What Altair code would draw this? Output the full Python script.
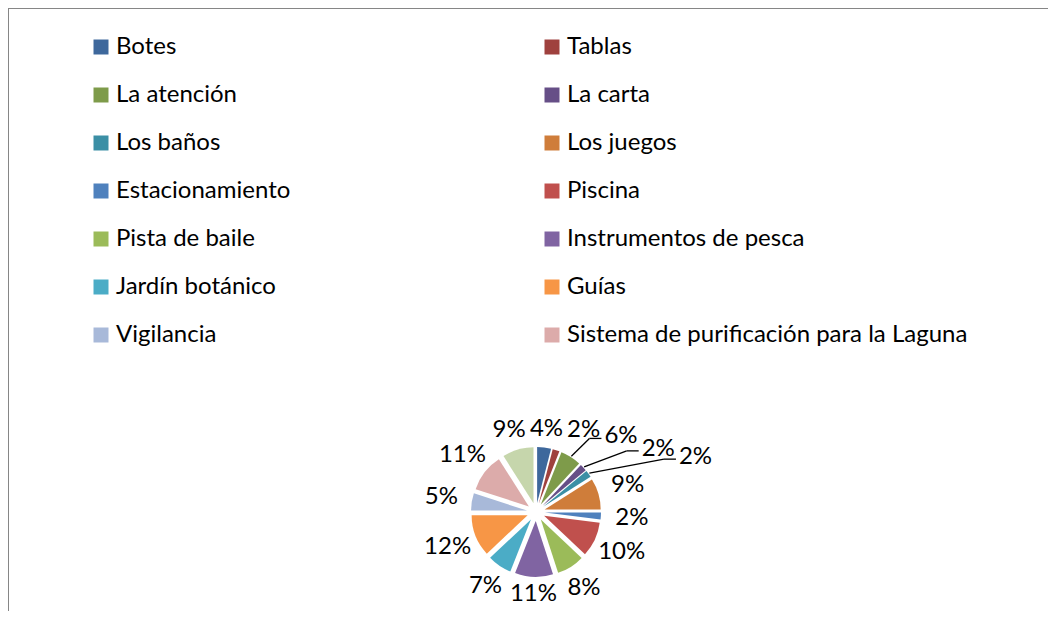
import math
import pandas as pd
import altair as alt

# ---- data ----
categories = [
    "Botes", "Tablas", "La atención", "La carta", "Los baños", "Los juegos",
    "Estacionamiento", "Piscina", "Pista de baile", "Instrumentos de pesca",
    "Jardín botánico", "Guías", "Vigilancia",
    "Sistema de purificación para la Laguna", "Otros",
]
values = [4, 2, 6, 2, 2, 9, 2, 10, 8, 11, 7, 12, 5, 11, 9]
colors = [
    "#3E689C", "#9F413E", "#7E9B4A", "#664F87", "#3B8FA5", "#CF7D3A",
    "#4F81BD", "#C0504D", "#9BBB59", "#8064A2", "#4BACC6", "#F79646",
    "#A8B9D9", "#DCABAA", "#C6D6AC",
]
legend_names = categories[:14]

# ---- layout constants ----
W, H = 1040, 603
CX, CY = 528, 504        # pie centre (px)
R = 56                   # slice radius
D = 9                    # explode offset
FS = 24                  # font size
FONT = "Lato"

total = float(sum(values))
rows = []
placed = []
cum = 0.0
for cat, v in zip(categories, values):
    start = cum
    end = cum + v
    mid = (start + end) / 2
    cum = end
    a0 = mid / total * 2 * math.pi
    s, c = math.sin(a0), -math.cos(a0)
    side = 1 if s >= 0 else -1
    text = f"{round(v / total * 100):d}%"
    w = FS * (0.58 * (len(text) - 1) + 0.84) + 3
    h = FS * 1.04

    def free(x, y):
        for (px, py, pw, ph) in placed:
            if abs(x - px) < (w + pw) / 2 and abs(y - py) < (h + ph) / 2:
                return False
        return True

    base = 82 + 14 * abs(s)
    best = None
    for dr in range(0, 140):
        if best is not None and dr >= best[0]:
            break
        for hx in range(0, 260):
            cost = dr + 0.5 * hx
            if best is not None and cost >= best[0]:
                break
            rr = base + dr
            x = CX + rr * s + side * hx
            y = CY + rr * c
            if free(x, y):
                best = (cost, x, y, dr, hx)
                break
    _, lx, ly, dr, hx = best
    placed.append((lx, ly, w, h))
    near_x = lx - side * (w / 2 + 1)
    rows.append(dict(
        cat=cat, value=v, start=start, end=end,
        ox=CX + D * s, oy=CY + D * c,
        lx=lx, ly=ly, label=text, pushed=(dr > 8 or hx > 25),
        l1x=CX + (D + R + 1) * s, l1y=CY + (D + R + 1) * c,
        ex=near_x - side * 12, ey=ly + 2,
        l2x=near_x, l2y=ly + 2,
    ))

df = pd.DataFrame(rows)
theta_scale = alt.Scale(domain=[0, total], range=[0, 2 * math.pi])

arcs = alt.Chart(df).mark_arc(radius=R, stroke=None).encode(
    theta=alt.Theta("start:Q", stack=None, scale=theta_scale),
    theta2="end:Q",
    x=alt.X("ox:Q", scale=None, axis=None),
    y=alt.Y("oy:Q", scale=None, axis=None),
    color=alt.Color(
        "cat:N",
        scale=alt.Scale(domain=categories, range=colors),
        sort=categories,
        legend=alt.Legend(
            title=None, orient="none", legendX=81, legendY=27,
            direction="horizontal", columns=2, columnPadding=249,
            rowPadding=24,
            symbolType="square", symbolSize=225, symbolStrokeWidth=0,
            labelFont=FONT, labelFontSize=FS, labelColor="black",
            labelOffset=3, labelLimit=700, values=legend_names, padding=0,
        ),
    ),
)

leader_a = alt.Chart(df).transform_filter("datum.pushed").mark_rule(
    color="black", strokeWidth=1.3
).encode(
    x=alt.X("l1x:Q", scale=None, axis=None),
    y=alt.Y("l1y:Q", scale=None, axis=None),
    x2="ex:Q",
    y2="ey:Q",
)
leader_b = alt.Chart(df).transform_filter("datum.pushed").mark_rule(
    color="black", strokeWidth=1.3
).encode(
    x=alt.X("ex:Q", scale=None, axis=None),
    y=alt.Y("ey:Q", scale=None, axis=None),
    x2="l2x:Q",
    y2="l2y:Q",
)

labels = alt.Chart(df).mark_text(
    font=FONT, fontSize=FS, color="black", align="center", baseline="middle"
).encode(
    x=alt.X("lx:Q", scale=None, axis=None),
    y=alt.Y("ly:Q", scale=None, axis=None),
    text="label:N",
)

frame = pd.DataFrame({"k": [0]})
top_line = alt.Chart(frame).mark_rule(color="#868686", strokeWidth=1).encode(
    x=alt.value(0), x2=alt.value(W), y=alt.value(0.5)
)
left_line = alt.Chart(frame).mark_rule(color="#868686", strokeWidth=1).encode(
    x=alt.value(0.5), y=alt.value(0), y2=alt.value(H)
)

chart = alt.layer(top_line, left_line, arcs, leader_a, leader_b, labels).properties(
    width=W, height=H, padding=0,
    autosize=alt.AutoSizeParams(type="none"),
).configure_view(stroke=None)

chart.save("out.html", embed_options={"renderer": "svg", "actions": False})
